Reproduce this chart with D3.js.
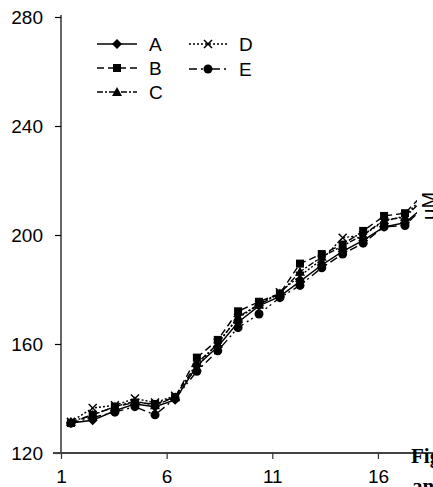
<!DOCTYPE html>
<html>
<head>
<meta charset="utf-8">
<script src="https://cdn.jsdelivr.net/npm/d3@7"></script>
<style>
  html, body { margin: 0; padding: 0; background: #fff; }
  svg { display: block; }
</style>
</head>
<body>
<svg id="chart" width="433" height="487"></svg>
<script>
// ---- data ----
const days = [1.47, 2.5, 3.55, 4.5, 5.45, 6.4, 7.43, 8.42, 9.38, 10.37, 11.36, 12.31, 13.34, 14.33, 15.3, 16.29, 17.28, 18.27];
const seriesA = [131, 132, 135.5, 138, 137, 139.5, 152, 159, 168, 174, 177.5, 183, 189, 194, 198, 203, 204.5, 211];
const seriesB = [131, 134, 137, 138.5, 138, 140.5, 155, 161.5, 172, 175.5, 178.5, 189.5, 193, 196.5, 201.5, 207, 208, 216];
const seriesC = [131.5, 134, 137, 139, 137.5, 140.5, 153, 160, 170, 174.5, 178.5, 186.5, 192, 196, 200, 205.5, 206.5, 214];
const seriesD = [131.5, 136.5, 137.5, 140, 138.5, 141, 151.5, 160.5, 169.5, 174.5, 179, 185, 191, 199, 200, 205, 207, 215];
const seriesE = [131, 133, 135, 137, 134, 140, 150, 157.5, 166, 171, 177, 181.5, 188, 193, 197, 203, 203.5, 211];
const seriesNames = ["A", "B", "C", "D", "E"];
const xTicks = [1, 6, 11, 16];
const yTicks = [120, 160, 200, 240, 280];

// ---- setup ----
const svg = d3.select("#chart");
const font = "'Liberation Sans', Arial, sans-serif";

const x = d3.scaleLinear().domain([1, 21]).range([61, 61 + 20 * 21.13]);
const y = d3.scaleLinear().domain([120, 280]).range([453, 17]);

const allSeries = [seriesA, seriesB, seriesC, seriesD, seriesE];
const styles = [
  { dash: null, marker: "diamond" },
  { dash: "7,4", marker: "square" },
  { dash: "6,2,2,2", marker: "triangle" },
  { dash: "2,2", marker: "cross" },
  { dash: "8,4,2,3,2,4", marker: "circle" }
];

svg.append("defs").append("clipPath").attr("id", "plotclip")
  .append("rect").attr("x", 0).attr("y", 0).attr("width", 417).attr("height", 487);

function drawMarker(g, type, cx, cy) {
  if (type === "diamond") {
    g.append("path").attr("d", `M${cx},${cy-5}L${cx+5},${cy}L${cx},${cy+5}L${cx-5},${cy}Z`).attr("fill", "#000");
  } else if (type === "square") {
    g.append("rect").attr("x", cx-4).attr("y", cy-4).attr("width", 8).attr("height", 8).attr("fill", "#000");
  } else if (type === "triangle") {
    g.append("path").attr("d", `M${cx},${cy-5}L${cx+5},${cy+4}L${cx-5},${cy+4}Z`).attr("fill", "#000");
  } else if (type === "cross") {
    g.append("path").attr("d", `M${cx-4},${cy-4}L${cx+4},${cy+4}M${cx-4},${cy+4}L${cx+4},${cy-4}`)
      .attr("stroke", "#000").attr("stroke-width", 1.5).attr("fill", "none");
  } else if (type === "circle") {
    g.append("circle").attr("cx", cx).attr("cy", cy).attr("r", 4.5).attr("fill", "#000");
  }
}

// ---- axes ----
const yAxis = svg.append("g").attr("transform", "translate(61,0)")
  .call(d3.axisLeft(y).tickValues(yTicks).tickSize(6).tickSizeOuter(0).tickPadding(12));
yAxis.selectAll("text").attr("font-family", font).attr("font-size", 19).attr("fill", "#000");
yAxis.selectAll("line").attr("stroke", "#000").attr("stroke-width", 1.2);
yAxis.select(".domain").attr("stroke", "#000").attr("stroke-width", 1.2).attr("d", "M0,15V453");

const xAxis = svg.append("g").attr("transform", "translate(0,453)")
  .call(d3.axisBottom(x).tickValues(xTicks).tickSize(6).tickSizeOuter(0).tickPadding(11));
xAxis.selectAll("text").attr("font-family", font).attr("font-size", 19).attr("fill", "#000");
xAxis.selectAll("line").attr("stroke", "#333").attr("stroke-width", 1.2);
xAxis.select(".domain").attr("stroke", "#444").attr("stroke-width", 1.8).attr("d", "M53,0H440");

// ---- series ----
const plot = svg.append("g").attr("clip-path", "url(#plotclip)");
const line = d3.line().x((d, i) => x(days[i])).y(d => y(d));
allSeries.forEach((s, k) => {
  plot.append("path").datum(s).attr("d", line)
    .attr("fill", "none").attr("stroke", "#000").attr("stroke-width", 1.4)
    .attr("stroke-dasharray", styles[k].dash);
  const mg = plot.append("g");
  s.forEach((v, i) => drawMarker(mg, styles[k].marker, x(days[i]), y(v)));
});

// ---- legend ----
const legendPos = [
  { x1: 97, x2: 137, lx: 149, y: 44 },
  { x1: 97, x2: 137, lx: 149, y: 68 },
  { x1: 97, x2: 137, lx: 149, y: 92 },
  { x1: 189, x2: 227, lx: 239, y: 44 },
  { x1: 189, x2: 227, lx: 239, y: 69 }
];
seriesNames.forEach((name, k) => {
  const p = legendPos[k];
  const g = svg.append("g");
  g.append("line").attr("x1", p.x1).attr("x2", p.x2).attr("y1", p.y).attr("y2", p.y)
    .attr("stroke", "#000").attr("stroke-width", 1.4).attr("stroke-dasharray", styles[k].dash);
  drawMarker(g, styles[k].marker, (p.x1 + p.x2) / 2, p.y);
  g.append("text").attr("x", p.lx).attr("y", p.y).attr("dy", "0.35em")
    .attr("font-family", font).attr("font-size", 19).attr("fill", "#000").text(name);
});

// ---- cut-off page text ----
svg.append("text").attr("transform", "translate(436,206) rotate(-90)")
  .attr("text-anchor", "middle").attr("font-family", font).attr("font-size", 20)
  .attr("fill", "#000").text("μM");
svg.append("text").attr("x", 411).attr("y", 463)
  .attr("font-family", "'Liberation Serif', 'Times New Roman', serif").attr("font-weight", "bold")
  .attr("font-size", 21).attr("fill", "#000").text("Fig.");
svg.append("text").attr("x", 412).attr("y", 493)
  .attr("font-family", "'Liberation Serif', 'Times New Roman', serif").attr("font-weight", "bold")
  .attr("font-size", 21).attr("fill", "#000").text("an");
</script>
</body>
</html>
